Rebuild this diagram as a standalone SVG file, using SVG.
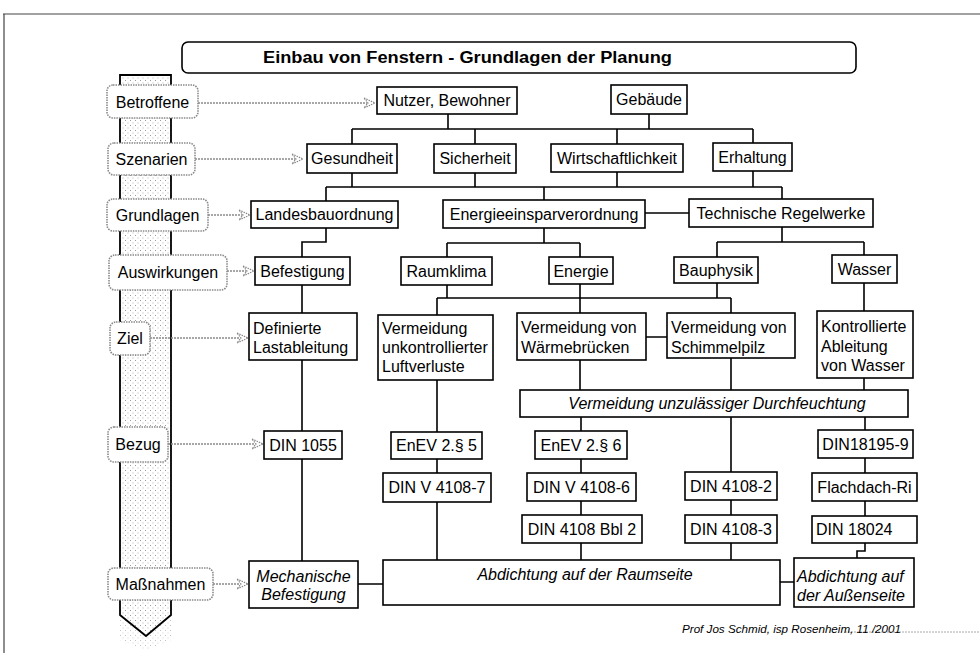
<svg xmlns="http://www.w3.org/2000/svg" width="980" height="653" viewBox="0 0 980 653">
<defs>
<pattern id="stip" width="5" height="5" patternUnits="userSpaceOnUse">
<rect width="5" height="5" fill="#ffffff"/>
<rect x="0" y="0" width="1" height="1" fill="#9a9a9a"/>
<rect x="2.5" y="2.5" width="1" height="1" fill="#b5b5b5"/>
</pattern>
<marker id="ah" markerWidth="14" markerHeight="12" refX="12" refY="6" orient="auto" markerUnits="userSpaceOnUse">
<path d="M1,1 L12,6 L1,11 L5,6 Z" fill="#fff" stroke="#888" stroke-width="1.2" stroke-dasharray="1.5 1"/>
</marker>
</defs>
<style>
.n{fill:#fff;stroke:#000;stroke-width:1.6}
.t{font-family:"Liberation Sans",Arial,sans-serif;font-size:16px;fill:#000}
.i{font-style:italic}
.c{text-anchor:middle}
.lb{fill:#fff;stroke:#8a8a8a;stroke-width:1.6;stroke-dasharray:1.5 1}
.cn{fill:none;stroke:#000;stroke-width:1.6}
.ar{fill:none;stroke:#8a8a8a;stroke-width:1.6;stroke-dasharray:2 1}
</style>
<rect width="980" height="653" fill="#fff"/>
<g id="frame">
<path d="M3,14 H980 M4,14 V653" fill="none" stroke="#444" stroke-width="1.2"/>
<path d="M845,632 H980" fill="none" stroke="#aaa" stroke-width="1" stroke-dasharray="2 1"/>
</g>
<g id="title">
<rect x="182" y="42" width="674" height="31" rx="6" fill="#fff" stroke="#000" stroke-width="1.6"/>
<text x="263" y="63" class="t" style="font-weight:bold" textLength="409" lengthAdjust="spacingAndGlyphs">Einbau von Fenstern - Grundlagen der Planung</text>
</g>
<g id="band">
<path d="M146,636 L120,615 L120,640 L146,650 L171,640 L171,615 Z" fill="url(#stip)" stroke="none" opacity="0.6"/>
<path d="M120,75 H171 V615 L146,636 L120,615 Z" fill="url(#stip)" stroke="#000" stroke-width="1.8"/>
</g>
<g id="connectors">
<path class="cn" d="M448,114 V129 M649,114 V129 M352,129 H753 M352,129 V144 M475,129 V144 M617,129 V144 M753,129 V143"/>
<path class="cn" d="M352,173 V187 M475,173 V187 M617,172 V187 M753,171 V187 M326,187 H782 M326,187 V201 M544,187 V200 M782,187 V199 M645,213 H689"/>
<path class="cn" d="M326,228 V242 H302 V257 M544,228 V243 M447,243 H580 M447,243 V257 M580,243 V257 M782,227 V242 M717,242 H864 M717,242 V257 M864,242 V255"/>
<path class="cn" d="M302,285 V313 M447,285 V298 M580,284 V298 M717,283 V298 M437,298 H731 M437,298 V315 M580,298 V313 M731,298 V313 M864,283 V311 M646,337 H667"/>
<path class="cn" d="M580,360 V390 M731,358 V390 M864,378 V390 M302,360 V431 M302,459 V561 M437,380 V432 M437,459 V473 M437,502 V560"/>
<path class="cn" d="M581,417 V431 M581,459 V473 M581,501 V515 M581,543 V560 M731,417 V472 M731,500 V515 M731,543 V560 M865,417 V430 M865,458 V473 M865,501 V516 M865,543 V551 H857 V558 M358,584 H383 M780,582 H794"/>
<path class="ar" marker-end="url(#ah)" d="M198,103 H375"/>
<path class="ar" marker-end="url(#ah)" d="M195,159 H303"/>
<path class="ar" marker-end="url(#ah)" d="M208,215 H250"/>
<path class="ar" marker-end="url(#ah)" d="M227,271 H254"/>
<path class="ar" marker-end="url(#ah)" d="M150,338 H248"/>
<path class="ar" marker-end="url(#ah)" d="M168,444 H263"/>
<path class="ar" marker-end="url(#ah)" d="M213,584 H248"/>
</g>
<g id="lbl-betroffene"><rect class="lb" x="107" y="85" width="91" height="33" rx="6"/><text class="t c" x="152.5" y="108">Betroffene</text></g>
<g id="lbl-szenarien"><rect class="lb" x="108" y="143" width="87" height="32" rx="6"/><text class="t c" x="151.5" y="165">Szenarien</text></g>
<g id="lbl-grundlagen"><rect class="lb" x="107" y="199" width="101" height="32" rx="6"/><text class="t c" x="157.5" y="221">Grundlagen</text></g>
<g id="lbl-auswirkungen"><rect class="lb" x="109" y="255" width="118" height="35" rx="6"/><text class="t c" x="168" y="278">Auswirkungen</text></g>
<g id="lbl-ziel"><rect class="lb" x="110" y="322" width="40" height="33" rx="6"/><text class="t c" x="130" y="344">Ziel</text></g>
<g id="lbl-bezug"><rect class="lb" x="108" y="427" width="60" height="35" rx="6"/><text class="t c" x="138" y="450">Bezug</text></g>
<g id="lbl-massnahmen"><rect class="lb" x="108" y="568" width="105" height="32" rx="6"/><text class="t c" x="160.5" y="590">Maßnahmen</text></g>
<g id="n-nutzer"><rect class="n" x="377" y="87" width="140" height="27"/><text class="t c" x="447" y="106">Nutzer, Bewohner</text></g>
<g id="n-gebaeude"><rect class="n" x="611" y="85" width="76" height="29"/><text class="t c" x="649" y="105">Gebäude</text></g>
<g id="n-gesundheit"><rect class="n" x="307" y="144" width="90" height="29"/><text class="t c" x="352" y="164">Gesundheit</text></g>
<g id="n-sicherheit"><rect class="n" x="434" y="144" width="82" height="29"/><text class="t c" x="475" y="164">Sicherheit</text></g>
<g id="n-wirtschaft"><rect class="n" x="551" y="144" width="132" height="28"/><text class="t c" x="617" y="164">Wirtschaftlichkeit</text></g>
<g id="n-erhaltung"><rect class="n" x="713" y="143" width="79" height="28"/><text class="t c" x="752.5" y="163">Erhaltung</text></g>
<g id="n-lbo"><rect class="n" x="251" y="201" width="147" height="27"/><text class="t c" x="324.5" y="220">Landesbauordnung</text></g>
<g id="n-enev"><rect class="n" x="443" y="200" width="202" height="28"/><text class="t c" x="544" y="220">Energieeinsparverordnung</text></g>
<g id="n-techn"><rect class="n" x="689" y="199" width="184" height="28"/><text class="t c" x="781" y="219">Technische Regelwerke</text></g>
<g id="n-befestigung"><rect class="n" x="255" y="257" width="95" height="28"/><text class="t c" x="302.5" y="277">Befestigung</text></g>
<g id="n-raumklima"><rect class="n" x="401" y="257" width="91" height="28"/><text class="t c" x="446.5" y="277">Raumklima</text></g>
<g id="n-energie"><rect class="n" x="549" y="257" width="64" height="27"/><text class="t c" x="581" y="277">Energie</text></g>
<g id="n-bauphysik"><rect class="n" x="674" y="257" width="84" height="26"/><text class="t c" x="716" y="276">Bauphysik</text></g>
<g id="n-wasser"><rect class="n" x="832" y="255" width="65" height="28"/><text class="t c" x="864.5" y="275">Wasser</text></g>
<g id="n-lastableitung"><rect class="n" x="249" y="313" width="108" height="47"/><text class="t" x="253" y="334">Definierte</text><text class="t" x="253" y="353">Lastableitung</text></g>
<g id="n-luftverluste"><rect class="n" x="378" y="315" width="115" height="65"/><text class="t" x="382" y="334">Vermeidung</text><text class="t" x="382" y="353">unkontrollierter</text><text class="t" x="382" y="372">Luftverluste</text></g>
<g id="n-waermebruecken"><rect class="n" x="517" y="313" width="129" height="47"/><text class="t" x="521" y="333">Vermeidung von</text><text class="t" x="521" y="353">Wärmebrücken</text></g>
<g id="n-schimmel"><rect class="n" x="667" y="313" width="128" height="45"/><text class="t" x="671" y="333">Vermeidung von</text><text class="t" x="671" y="353">Schimmelpilz</text></g>
<g id="n-ableitung"><rect class="n" x="817" y="311" width="96" height="67"/><text class="t" x="821" y="332">Kontrollierte</text><text class="t" x="821" y="352">Ableitung</text><text class="t" x="821" y="371">von Wasser</text></g>
<g id="n-durchfeuchtung"><rect class="n" x="520" y="390" width="388" height="27"/><text class="t i c" x="717" y="409">Vermeidung unzulässiger Durchfeuchtung</text></g>
<g id="n-din1055"><rect class="n" x="264" y="431" width="78" height="28"/><text class="t c" x="303" y="451">DIN 1055</text></g>
<g id="n-enev5"><rect class="n" x="391" y="432" width="91" height="27"/><text class="t c" x="436.5" y="451">EnEV 2.§ 5</text></g>
<g id="n-din41087"><rect class="n" x="383" y="473" width="108" height="29"/><text class="t c" x="437" y="493">DIN V 4108-7</text></g>
<g id="n-enev6"><rect class="n" x="535" y="431" width="92" height="28"/><text class="t c" x="581" y="451">EnEV 2.§ 6</text></g>
<g id="n-din41086"><rect class="n" x="527" y="473" width="109" height="28"/><text class="t c" x="581.5" y="493">DIN V 4108-6</text></g>
<g id="n-dinbbl2"><rect class="n" x="522" y="515" width="120" height="28"/><text class="t c" x="582" y="535">DIN 4108 Bbl 2</text></g>
<g id="n-din41082"><rect class="n" x="685" y="472" width="92" height="28"/><text class="t c" x="731" y="492">DIN 4108-2</text></g>
<g id="n-din41083"><rect class="n" x="685" y="515" width="92" height="28"/><text class="t c" x="731" y="535">DIN 4108-3</text></g>
<g id="n-din18195"><rect class="n" x="818" y="430" width="95" height="28"/><text class="t c" x="865.5" y="450">DIN18195-9</text></g>
<g id="n-flachdach"><rect class="n" x="812" y="473" width="105" height="28"/><text class="t c" x="864.5" y="493">Flachdach-Ri</text></g>
<g id="n-din18024"><rect class="n" x="812" y="516" width="105" height="27"/><text class="t" x="816" y="535">DIN 18024</text></g>
<g id="n-mechanisch"><rect class="n" x="249" y="561" width="109" height="47"/><text class="t i c" x="303.5" y="582">Mechanische</text><text class="t i c" x="303.5" y="600">Befestigung</text></g>
<g id="n-raumseite"><rect class="n" x="383" y="560" width="397" height="45"/><text class="t i c" x="585" y="580">Abdichtung auf der Raumseite</text></g>
<g id="n-aussenseite"><rect class="n" x="794" y="558" width="120" height="49"/><text class="t i" x="797" y="582">Abdichtung auf</text><text class="t i" x="797" y="601">der Außenseite</text></g>
<g id="footer"><text x="682" y="633" style="font-family:'Liberation Sans',Arial,sans-serif;font-size:10.5px;font-style:italic" textLength="219" lengthAdjust="spacingAndGlyphs">Prof Jos Schmid, isp Rosenheim, 11 /2001</text></g>
</svg>
